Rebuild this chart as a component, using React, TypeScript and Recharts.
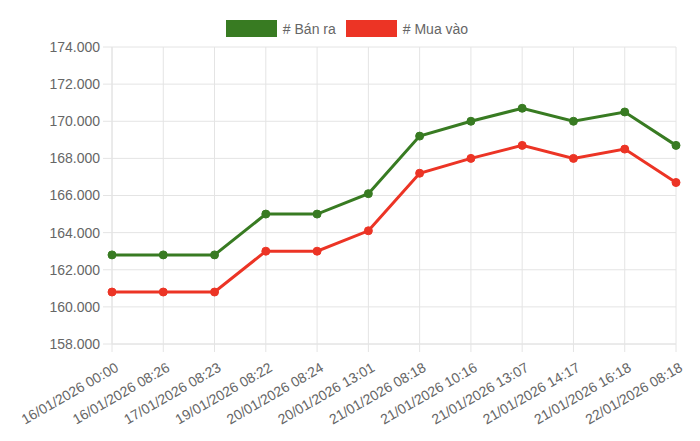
import React from "react";
import { LineChart, Line, XAxis, YAxis, CartesianGrid, Legend } from "recharts";

const labels = [
  "16/01/2026 00:00",
  "16/01/2026 08:26",
  "17/01/2026 08:23",
  "19/01/2026 08:22",
  "20/01/2026 08:24",
  "20/01/2026 13:01",
  "21/01/2026 08:18",
  "21/01/2026 10:16",
  "21/01/2026 13:07",
  "21/01/2026 14:17",
  "21/01/2026 16:18",
  "22/01/2026 08:18",
];

const banRa = [162800, 162800, 162800, 165000, 165000, 166100, 169200, 170000, 170700, 170000, 170500, 168700];
const muaVao = [160800, 160800, 160800, 163000, 163000, 164100, 167200, 168000, 168700, 168000, 168500, 166700];

const yTicks = [158000, 160000, 162000, 164000, 166000, 168000, 170000, 172000, 174000];

const GREEN = "#387b22";
const RED = "#ec3425";
const TEXT = "#666";
const GRID = "#e4e4e4";
const FONT = "'Liberation Sans', Arial, sans-serif";

const data = labels.map((label, i) => ({ label, ban: banRa[i], mua: muaVao[i] }));

const fmt = (v: number) => {
  const s = String(Math.round(v));
  return s.replace(/\B(?=(\d{3})+(?!\d))/g, ".");
};

const series = [
  { name: "# Bán ra", color: GREEN },
  { name: "# Mua vào", color: RED },
];

function LegendBox() {
  return (
    <div
      style={{
        height: 37,
        display: "flex",
        justifyContent: "center",
        alignItems: "flex-start",
        paddingTop: 10,
        paddingRight: 6,
        boxSizing: "border-box",
        fontFamily: FONT,
        fontSize: 14,
        color: TEXT,
      }}
    >
      {series.map((s, i) => (
        <div key={s.name} style={{ display: "flex", alignItems: "center", marginLeft: i ? 10 : 0 }}>
          <span
            style={{
              width: 51,
              height: 17,
              background: s.color,
              display: "inline-block",
              marginRight: 6,
            }}
          />
          <span>{s.name}</span>
        </div>
      ))}
    </div>
  );
}

function XTick(props: any) {
  const { x, payload } = props;
  return (
    <text
      x={0}
      y={0}
      transform={`translate(${x + 5}, ${366}) rotate(-30)`}
      textAnchor="end"
      dy="0.35em"
      fill={TEXT}
      fontSize={14}
      fontFamily={FONT}
    >
      {payload.value}
    </text>
  );
}

export default function App() {
  return (
    <div style={{ position: "absolute", left: 0, top: 0, width: 700, height: 441, background: "#fff" }}>
      <LineChart width={700} height={441} data={data} margin={{ top: 10, right: 24, bottom: 0, left: 0 }}>
        <Legend
          verticalAlign="top"
          align="center"
          wrapperStyle={{ left: 0, width: 700 }}
          content={<LegendBox />}
        />
        <CartesianGrid stroke={GRID} strokeWidth={1} />
        <XAxis
          dataKey="label"
          interval={0}
          height={97}
          axisLine={{ stroke: GRID }}
          tickLine={{ stroke: GRID }}
          tickSize={8}
          tick={<XTick />}
        />
        <YAxis
          width={112}
          domain={[158000, 174000]}
          ticks={yTicks}
          interval={0}
          tickFormatter={fmt}
          axisLine={{ stroke: GRID }}
          tickLine={{ stroke: GRID }}
          tickSize={9}
          tickMargin={3}
          tick={{ fill: TEXT, fontSize: 14, fontFamily: FONT }}
        />
        <Line
          dataKey="ban"
          name="# Bán ra"
          stroke={GREEN}
          strokeWidth={3}
          dot={{ r: 4, fill: GREEN, stroke: GREEN, strokeWidth: 1 }}
          isAnimationActive={false}
        />
        <Line
          dataKey="mua"
          name="# Mua vào"
          stroke={RED}
          strokeWidth={3}
          dot={{ r: 4, fill: RED, stroke: RED, strokeWidth: 1 }}
          isAnimationActive={false}
        />
      </LineChart>
    </div>
  );
}
